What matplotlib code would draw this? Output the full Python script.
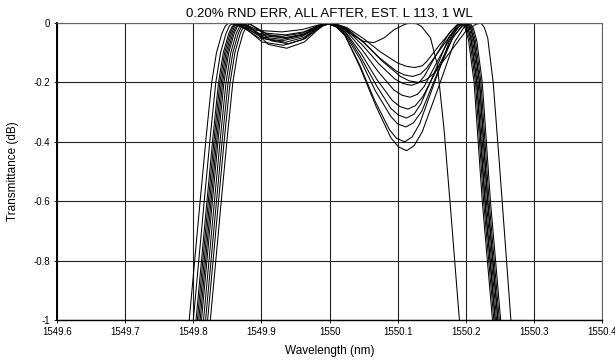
import numpy as np
import matplotlib
matplotlib.use("Agg")
import matplotlib.pyplot as plt

plt.rcParams['font.family'] = ['Liberation Sans', 'DejaVu Sans']

# --- chart text ---
TITLE = "0.20% RND ERR, ALL AFTER, EST. L 113, 1 WL"
X_LABEL = "Wavelength (nm)"
Y_LABEL = "Transmittance (dB)"

x_ticks = [1549.6, 1549.7, 1549.8, 1549.9, 1550.0, 1550.1, 1550.2, 1550.3, 1550.4]
x_tick_labels = ["1549.6", "1549.7", "1549.8", "1549.9", "1550", "1550.1", "1550.2", "1550.3", "1550.4"]
y_ticks = [0, -0.2, -0.4, -0.6, -0.8, -1.0]
y_tick_labels = ["0", "-0.2", "-0.4", "-0.6", "-0.8", "-1"]

# --- traces: (wavelength nm, transmittance dB) ---
curve_01 = [(1549.790, -1.10), (1549.810, -0.60), (1549.819, -0.38), (1549.827, -0.20), (1549.834, -0.10),
            (1549.842, -0.035), (1549.847, -0.010), (1549.852, 0.0), (1549.867, -0.010), (1549.890, -0.024),
            (1549.930, -0.030), (1549.960, -0.022), (1549.980, -0.009), (1549.990, -0.003), (1549.998, 0.0),
            (1550.010, -0.004), (1550.025, -0.015), (1550.050, -0.053), (1550.075, -0.098), (1550.100, -0.135),
            (1550.113, -0.146), (1550.125, -0.150), (1550.136, -0.144), (1550.143, -0.128), (1550.161, -0.075),
            (1550.180, -0.023), (1550.190, -0.004), (1550.198, 0.0), (1550.203, -0.018), (1550.208, -0.06),
            (1550.216, -0.20), (1550.228, -0.60), (1550.243, -1.00), (1550.248, -1.12)]

curve_02 = [(1549.796, -1.10), (1549.816, -0.60), (1549.825, -0.38), (1549.833, -0.20), (1549.840, -0.10),
            (1549.848, -0.035), (1549.853, -0.010), (1549.858, 0.0), (1549.873, -0.016), (1549.895, -0.036),
            (1549.930, -0.045), (1549.960, -0.034), (1549.980, -0.013), (1549.990, -0.005), (1549.998, -0.002),
            (1550.010, -0.006), (1550.024, -0.018), (1550.049, -0.063), (1550.073, -0.117), (1550.098, -0.162),
            (1550.110, -0.175), (1550.122, -0.180), (1550.133, -0.172), (1550.142, -0.153), (1550.162, -0.090),
            (1550.182, -0.027), (1550.194, -0.005), (1550.202, 0.0), (1550.207, -0.018), (1550.212, -0.06),
            (1550.220, -0.20), (1550.232, -0.60), (1550.247, -1.00), (1550.252, -1.12)]

curve_03 = [(1549.800, -1.10), (1549.820, -0.60), (1549.829, -0.38), (1549.837, -0.20), (1549.844, -0.10),
            (1549.852, -0.035), (1549.857, -0.012), (1549.862, -0.002), (1549.877, -0.021), (1549.897, -0.051),
            (1549.930, -0.060), (1549.960, -0.045), (1549.980, -0.018), (1549.990, -0.007), (1549.998, -0.003),
            (1550.010, -0.007), (1550.024, -0.021), (1550.048, -0.074), (1550.072, -0.137), (1550.096, -0.189),
            (1550.108, -0.204), (1550.120, -0.210), (1550.131, -0.201), (1550.139, -0.179), (1550.157, -0.105),
            (1550.176, -0.032), (1550.187, -0.006), (1550.194, 0.0), (1550.199, -0.018), (1550.204, -0.06),
            (1550.212, -0.20), (1550.224, -0.60), (1550.239, -1.00), (1550.244, -1.12)]

curve_04 = [(1549.804, -1.10), (1549.824, -0.60), (1549.833, -0.38), (1549.841, -0.20), (1549.848, -0.10),
            (1549.856, -0.035), (1549.861, -0.010), (1549.866, 0.0), (1549.881, -0.026), (1549.901, -0.064),
            (1549.932, -0.075), (1549.960, -0.056), (1549.980, -0.022), (1549.990, -0.008), (1549.998, -0.002),
            (1550.010, -0.008), (1550.024, -0.025), (1550.047, -0.088), (1550.071, -0.163), (1550.094, -0.225),
            (1550.106, -0.243), (1550.118, -0.250), (1550.129, -0.240), (1550.139, -0.213), (1550.159, -0.125),
            (1550.180, -0.038), (1550.192, -0.007), (1550.200, 0.0), (1550.205, -0.018), (1550.210, -0.06),
            (1550.218, -0.20), (1550.230, -0.60), (1550.245, -1.00), (1550.250, -1.12)]

curve_05 = [(1549.808, -1.10), (1549.828, -0.60), (1549.837, -0.38), (1549.845, -0.20), (1549.852, -0.10),
            (1549.860, -0.035), (1549.865, -0.010), (1549.870, 0.0), (1549.885, -0.014), (1549.905, -0.034),
            (1549.935, -0.040), (1549.962, -0.030), (1549.980, -0.012), (1549.990, -0.004), (1549.998, 0.0),
            (1550.010, -0.009), (1550.023, -0.029), (1550.046, -0.102), (1550.069, -0.189), (1550.092, -0.261),
            (1550.103, -0.281), (1550.115, -0.290), (1550.126, -0.278), (1550.137, -0.247), (1550.160, -0.145),
            (1550.182, -0.044), (1550.196, -0.008), (1550.204, 0.0), (1550.209, -0.018), (1550.214, -0.06),
            (1550.222, -0.20), (1550.234, -0.60), (1550.249, -1.00), (1550.254, -1.12)]

curve_06 = [(1549.811, -1.10), (1549.831, -0.60), (1549.840, -0.38), (1549.848, -0.20), (1549.855, -0.10),
            (1549.863, -0.035), (1549.868, -0.012), (1549.873, -0.003), (1549.888, -0.023), (1549.907, -0.055),
            (1549.935, -0.065), (1549.962, -0.049), (1549.980, -0.020), (1549.990, -0.009), (1549.998, -0.004),
            (1550.010, -0.011), (1550.023, -0.032), (1550.045, -0.112), (1550.068, -0.208), (1550.090, -0.288),
            (1550.101, -0.310), (1550.113, -0.320), (1550.124, -0.307), (1550.134, -0.272), (1550.155, -0.160),
            (1550.175, -0.048), (1550.188, -0.008), (1550.196, 0.0), (1550.201, -0.018), (1550.206, -0.06),
            (1550.214, -0.20), (1550.226, -0.60), (1550.241, -1.00), (1550.246, -1.12)]

curve_07 = [(1549.814, -1.10), (1549.834, -0.60), (1549.843, -0.38), (1549.851, -0.20), (1549.858, -0.10),
            (1549.866, -0.035), (1549.871, -0.010), (1549.876, 0.0), (1549.891, -0.030), (1549.910, -0.072),
            (1549.937, -0.085), (1549.963, -0.064), (1549.981, -0.026), (1549.990, -0.010), (1549.998, -0.003),
            (1550.010, -0.011), (1550.022, -0.035), (1550.045, -0.123), (1550.067, -0.228), (1550.090, -0.315),
            (1550.100, -0.340), (1550.112, -0.350), (1550.123, -0.336), (1550.135, -0.298), (1550.157, -0.175),
            (1550.180, -0.053), (1550.194, -0.010), (1550.202, 0.0), (1550.207, -0.018), (1550.212, -0.06),
            (1550.220, -0.20), (1550.232, -0.60), (1550.247, -1.00), (1550.252, -1.12)]

curve_08 = [(1549.817, -1.10), (1549.837, -0.60), (1549.846, -0.38), (1549.854, -0.20), (1549.861, -0.10),
            (1549.869, -0.035), (1549.874, -0.010), (1549.879, 0.0), (1549.894, -0.018), (1549.912, -0.042),
            (1549.938, -0.050), (1549.963, -0.038), (1549.981, -0.015), (1549.990, -0.005), (1549.998, 0.0),
            (1550.010, -0.012), (1550.022, -0.040), (1550.044, -0.140), (1550.066, -0.260), (1550.088, -0.360),
            (1550.098, -0.388), (1550.110, -0.400), (1550.121, -0.384), (1550.132, -0.340), (1550.154, -0.200),
            (1550.176, -0.060), (1550.190, -0.010), (1550.198, 0.0), (1550.203, -0.018), (1550.208, -0.06),
            (1550.216, -0.20), (1550.228, -0.60), (1550.243, -1.00), (1550.248, -1.12)]

curve_09 = [(1549.821, -1.10), (1549.841, -0.60), (1549.850, -0.38), (1549.858, -0.20), (1549.865, -0.10),
            (1549.873, -0.035), (1549.878, -0.012), (1549.883, -0.002), (1549.897, -0.025), (1549.914, -0.060),
            (1549.940, -0.070), (1549.964, -0.053), (1549.982, -0.021), (1549.990, -0.009), (1549.998, -0.003),
            (1550.010, -0.014), (1550.023, -0.043), (1550.045, -0.151), (1550.068, -0.280), (1550.090, -0.387),
            (1550.101, -0.417), (1550.113, -0.430), (1550.124, -0.413), (1550.136, -0.366), (1550.160, -0.215),
            (1550.183, -0.065), (1550.198, -0.012), (1550.206, 0.0), (1550.211, -0.018), (1550.216, -0.06),
            (1550.224, -0.20), (1550.236, -0.60), (1550.251, -1.00), (1550.256, -1.12)]

curve_10 = [(1549.806, -1.10), (1549.826, -0.60), (1549.835, -0.38), (1549.843, -0.20), (1549.850, -0.10),
            (1549.858, -0.035), (1549.863, -0.012), (1549.868, -0.002), (1549.883, -0.018), (1549.903, -0.043),
            (1549.933, -0.050), (1549.961, -0.038), (1549.980, -0.015), (1549.990, -0.005), (1549.998, -0.002),
            (1550.010, -0.006), (1550.026, -0.020), (1550.052, -0.070), (1550.078, -0.130), (1550.104, -0.180),
            (1550.117, -0.195), (1550.130, -0.200), (1550.141, -0.192), (1550.153, -0.170), (1550.176, -0.100),
            (1550.199, -0.030), (1550.214, -0.005), (1550.222, 0.0), (1550.227, -0.015), (1550.232, -0.05),
            (1550.240, -0.20), (1550.250, -0.50), (1550.258, -0.75), (1550.266, -1.00), (1550.270, -1.12)]

curve_11 = [(1549.802, -1.10), (1549.822, -0.60), (1549.831, -0.38), (1549.839, -0.20), (1549.846, -0.10),
            (1549.854, -0.035), (1549.859, -0.010), (1549.864, 0.0), (1549.879, -0.019), (1549.899, -0.047),
            (1549.930, -0.055), (1549.960, -0.041), (1549.980, -0.017), (1549.990, -0.006), (1549.998, -0.001),
            (1550.010, -0.004), (1550.030, -0.035), (1550.050, -0.062), (1550.065, -0.066), (1550.080, -0.050),
            (1550.095, -0.022), (1550.110, -0.005), (1550.116, -0.001), (1550.122, 0.0), (1550.128, -0.003),
            (1550.135, -0.012), (1550.148, -0.050), (1550.158, -0.140), (1550.168, -0.360), (1550.178, -0.640),
            (1550.188, -0.930), (1550.194, -1.10)]

curves = [curve_01, curve_02, curve_03, curve_04, curve_05, curve_06,
          curve_07, curve_08, curve_09, curve_10, curve_11]

fig = plt.figure(figsize=(6.15, 3.62), dpi=100)
ax = fig.add_axes([0.0927, 0.116, 0.8865, 0.8205])

for c in curves:
    wl, db = np.array(sorted(c)).T
    ax.plot(wl, db, color='black', linewidth=0.75)

ax.set_xlim(1549.6, 1550.4)
ax.set_ylim(-1.0, 0.0)
ax.set_xticks(x_ticks)
ax.set_xticklabels(x_tick_labels)
ax.set_yticks(y_ticks)
ax.set_yticklabels(y_tick_labels)
ax.tick_params(labelsize=7, length=2, width=0.6, pad=3)

ax.grid(True, color='#222222', linewidth=0.8)
ax.set_axisbelow(True)
ax.spines['left'].set_linewidth(1.4)
ax.spines['bottom'].set_linewidth(1.0)
for s in ('top', 'right'):
    ax.spines[s].set_color('#666666')
    ax.spines[s].set_linewidth(0.8)

ax.set_title(TITLE, fontsize=9.5, pad=5)
ax.set_xlabel(X_LABEL, fontsize=8.5, labelpad=6)
ax.set_ylabel(Y_LABEL, fontsize=8.5, labelpad=10)

fig.savefig("out.png", dpi=100)
